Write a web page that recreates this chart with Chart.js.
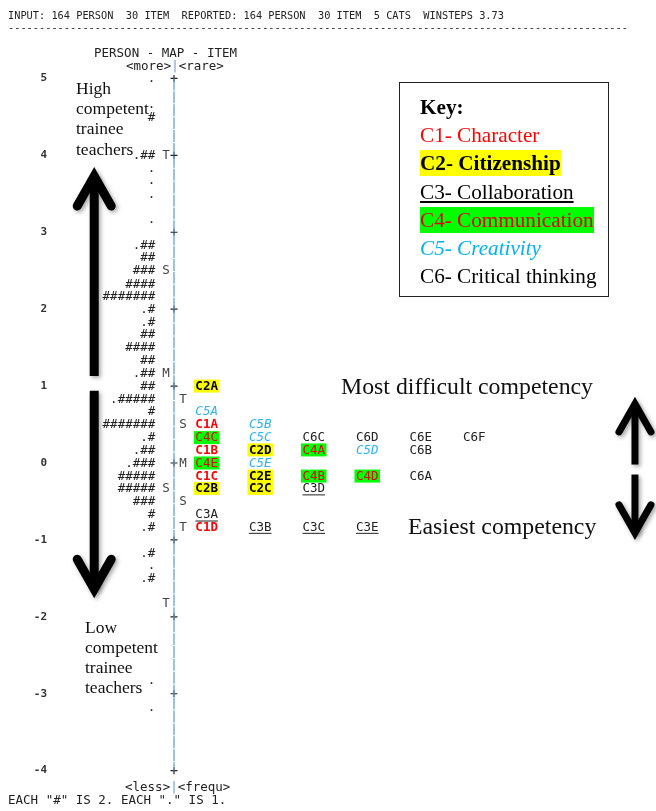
<!DOCTYPE html>
<html>
<head>
<meta charset="utf-8">
<script src="https://cdn.jsdelivr.net/npm/chart.js@4.4.1/dist/chart.umd.min.js"></script>
<style>
  html, body { margin: 0; padding: 0; background: #fff; }
  #wrap { position: relative; width: 656px; height: 811px; overflow: hidden; }
  #wrap canvas { position: absolute; left: 0; top: 0; }
  .mono { position: absolute; font-family: "DejaVu Sans Mono", monospace; font-size: 12.5px; line-height: 14px; color: #222; white-space: pre; }
  .small { font-size: 10.3px; line-height: 12px; }
  .serif { position: absolute; font-family: "Liberation Serif", "Times New Roman", serif; color: #111; white-space: pre; }
  .blue { color: #6a9fd4; }
  #key { position: absolute; left: 399px; top: 82px; width: 210px; height: 215px; box-sizing: border-box;
         border: 1.5px solid #222; padding: 10px 0 0 20px; font-family: "Liberation Serif", serif; font-size: 21.2px; line-height: 28.2px; color: #000; }
  #key div { white-space: pre; }
</style>
</head>
<body>
<div id="wrap">
  <canvas id="map" width="656" height="811"></canvas>

  <div class="mono small" style="left:8px;top:9px;">INPUT: 164 PERSON  30 ITEM  REPORTED: 164 PERSON  30 ITEM  5 CATS  WINSTEPS 3.73</div>
  <div class="mono small" style="left:8px;top:21px;">----------------------------------------------------------------------------------------------------</div>
  <div class="mono" style="left:94px;top:46px;">PERSON - MAP - ITEM</div>
  <div class="mono" style="left:126px;top:59px;">&lt;more&gt;<span class="blue">|</span>&lt;rare&gt;</div>
  <div class="mono" style="left:125px;top:780px;">&lt;less&gt;<span class="blue">|</span>&lt;frequ&gt;</div>
  <div class="mono" style="left:8px;top:793px;">EACH "#" IS 2. EACH "." IS 1.</div>

  <div class="serif" style="left:76px;top:78px;font-size:17.5px;line-height:20.2px;">High
competent
trainee
teachers</div>
  <div class="serif" style="left:85px;top:617px;font-size:17.5px;line-height:20px;">Low
competent
trainee
teachers</div>
  <div class="serif" style="left:341px;top:372px;font-size:23.8px;line-height:28px;">Most difficult competency</div>
  <div class="serif" style="left:408px;top:512px;font-size:23.8px;line-height:28px;">Easiest competency</div>

  <div id="key">
    <div style="font-weight:bold;">Key:</div>
    <div style="color:#ff0000;">C1- Character</div>
    <div><span style="font-weight:bold;background:#ffff00;padding:1px 0;">C2- Citizenship</span></div>
    <div><span style="text-decoration:underline;">C3- Collaboration</span></div>
    <div><span style="color:#e00000;background:#00ff00;padding:1px 0;">C4- Communication</span></div>
    <div style="color:#00b0f0;font-style:italic;">C5- Creativity</div>
    <div>C6- Critical thinking</div>
  </div>
</div>

<script>
// logit scale ticks
const tickValues = [5, 4, 3, 2, 1, 0, -1, -2, -3, -4];

// persons: measure of each map row and number of persons in it
const personMeasures = [5.00, 4.67, 4.50, 4.00, 3.83, 3.67, 3.50, 3.17, 2.83, 2.67, 2.50, 2.33, 2.17,
  2.00, 1.83, 1.67, 1.50, 1.33, 1.17, 1.00, 0.83, 0.67, 0.50, 0.33, 0.17, 0.00, -0.17, -0.33,
  -0.50, -0.67, -0.83, -1.17, -1.33, -1.50, -2.83, -3.17];
const personCounts = [1, 1, 2, 5, 1, 1, 1, 1, 5, 4, 6, 8, 14,
  3, 3, 4, 8, 4, 5, 4, 11, 2, 14, 3, 5, 7, 10, 10,
  6, 2, 3, 3, 1, 3, 1, 1];

// M / S / T markers
const personMarkLabels = ['T', 'S', 'M', 'S', 'T'];
const personMarkMeasures = [4.00, 2.50, 1.17, -0.33, -1.83];
const itemMarkLabels = ['T', 'S', 'M', 'S', 'T'];
const itemMarkMeasures = [0.83, 0.50, 0.00, -0.50, -0.83];

// items
const itemNames = ['C2A', 'C5A', 'C1A', 'C5B', 'C4C', 'C5C', 'C6C', 'C6D', 'C6E', 'C6F',
  'C1B', 'C2D', 'C4A', 'C5D', 'C6B', 'C4E', 'C5E', 'C1C', 'C2E', 'C4B', 'C4D', 'C6A',
  'C2B', 'C2C', 'C3D', 'C3A', 'C1D', 'C3B', 'C3C', 'C3E'];
const itemMeasures = [1.00, 0.67, 0.50, 0.50, 0.33, 0.33, 0.33, 0.33, 0.33, 0.33,
  0.17, 0.17, 0.17, 0.17, 0.17, 0.00, 0.00, -0.17, -0.17, -0.17, -0.17, -0.17,
  -0.33, -0.33, -0.33, -0.67, -0.83, -0.83, -0.83, -0.83];

// --- layout / style (column units on the hidden x scale) ---
const X_MIN = -1.926, X_MAX = 9.296;
const PERSON_X = 0.04, PMARK_X = 0.24, AXIS_X = 0.39, IMARK_X = 0.56;
const MONO = '"DejaVu Sans Mono", monospace';

const catStyle = {
  C1: { color: '#ff0000', bold: true },
  C2: { color: '#000', bold: true, bg: '#ffff00' },
  C3: { color: '#222', underline: true },
  C4: { color: '#e00000', bg: '#00ff00' },
  C5: { color: '#2fb2ee', italic: true },
  C6: { color: '#222' }
};

// person string: dot for odd count, then one '#' per 2
const personText = personCounts.map(n => (n % 2 ? '.' : '') + '#'.repeat(Math.floor(n / 2)));

// item column = order within its row
const seen = {};
const itemCols = itemMeasures.map(m => { seen[m] = (seen[m] || 0) + 1; return seen[m]; });

// arrows (annotation), y in logits
const arrows = [
  { x: -1.1, from: 1.13, to: 3.85, lw: 9, hw: 17, hh: 30 },
  { x: -1.1, from: 0.94, to: -1.76, lw: 9, hw: 17, hh: 30 },
  { x: 9.0, from: -0.02, to: 0.86, lw: 7, hw: 16, hh: 28 },
  { x: 9.0, from: -0.15, to: -1.00, lw: 7, hw: 16, hh: 28 }
];

const arrowPlugin = {
  id: 'arrows',
  beforeDatasetsDraw(chart) {
    const { ctx, scales: { x, y } } = chart;
    ctx.save();
    ctx.strokeStyle = '#000';
    ctx.shadowColor = 'rgba(0,0,0,0.35)';
    ctx.shadowBlur = 4;
    ctx.shadowOffsetX = 2;
    ctx.shadowOffsetY = 2;
    arrows.forEach(a => {
      const px = x.getPixelForValue(a.x);
      const y0 = y.getPixelForValue(a.from);
      const dir = y.getPixelForValue(a.to) < y0 ? 1 : -1;
      // keep the mitred tip on the target value
      const ext = (a.lw / 2) / Math.sin(Math.atan(a.hw / a.hh));
      const y1 = y.getPixelForValue(a.to) + dir * ext;
      ctx.lineWidth = a.lw;
      ctx.lineCap = 'butt';
      ctx.beginPath();
      ctx.moveTo(px, y0);
      ctx.lineTo(px, y1);
      ctx.stroke();
      ctx.lineCap = 'round';
      ctx.lineJoin = 'miter';
      ctx.beginPath();
      ctx.moveTo(px - a.hw, y1 + dir * a.hh);
      ctx.lineTo(px, y1);
      ctx.lineTo(px + a.hw, y1 + dir * a.hh);
      ctx.stroke();
    });
    ctx.restore();
  }
};

const textPlugin = {
  id: 'mapText',
  afterDatasetsDraw(chart) {
    const ctx = chart.ctx;
    ctx.save();
    ctx.textBaseline = 'middle';
    chart.data.datasets.forEach((ds, i) => {
      if (!ds.texts) return;
      const meta = chart.getDatasetMeta(i);
      meta.data.forEach((el, j) => {
        const txt = ds.texts[j];
        const st = ds.styles ? ds.styles[j] : { color: ds.textColor || '#222' };
        ctx.font = (st.italic ? 'italic ' : '') + (st.bold ? 'bold ' : '') + '12.5px ' + MONO;
        const w = ctx.measureText(txt).width;
        let left = el.x;
        if (ds.align === 'right') left = el.x - w;
        else if (ds.align === 'center') left = el.x - w / 2;
        if (st.bg) {
          ctx.fillStyle = st.bg;
          ctx.fillRect(left - 1.5, el.y - 6.5, w + 3, 13);
        }
        ctx.fillStyle = st.color;
        ctx.textAlign = 'left';
        ctx.fillText(txt, left, el.y + 0.5);
        if (st.underline) {
          ctx.strokeStyle = st.color;
          ctx.lineWidth = 1;
          ctx.beginPath();
          ctx.moveTo(left, el.y + 6.5);
          ctx.lineTo(left + w, el.y + 6.5);
          ctx.stroke();
        }
      });
    });
    ctx.restore();
  }
};

new Chart(document.getElementById('map'), {
  type: 'scatter',
  data: {
    datasets: [
      {
        type: 'line',
        data: [{ x: AXIS_X, y: 5 }, { x: AXIS_X, y: -4 }],
        borderColor: '#6a9fd4',
        borderWidth: 1.3,
        borderDash: [11.9, 1],
        pointRadius: 0
      },
      {
        data: tickValues.map(v => ({ x: AXIS_X, y: v })),
        pointStyle: 'cross',
        pointRadius: 3.5,
        borderColor: '#222',
        borderWidth: 1.2
      },
      {
        data: personMeasures.map(m => ({ x: PERSON_X, y: m })),
        pointRadius: 0,
        texts: personText,
        align: 'right',
        textColor: '#222'
      },
      {
        data: personMarkMeasures.map(m => ({ x: PMARK_X, y: m })),
        pointRadius: 0,
        texts: personMarkLabels,
        align: 'center',
        textColor: '#444'
      },
      {
        data: itemMarkMeasures.map(m => ({ x: IMARK_X, y: m })),
        pointRadius: 0,
        texts: itemMarkLabels,
        align: 'center',
        textColor: '#444'
      },
      {
        data: itemMeasures.map((m, i) => ({ x: itemCols[i], y: m })),
        pointRadius: 0,
        texts: itemNames,
        styles: itemNames.map(n => catStyle[n.slice(0, 2)]),
        align: 'center'
      }
    ]
  },
  options: {
    responsive: false,
    animation: false,
    layout: { padding: { top: 40, bottom: 5, left: 0, right: 0 } },
    plugins: { legend: { display: false }, tooltip: { enabled: false } },
    scales: {
      x: { type: 'linear', min: X_MIN, max: X_MAX, display: false },
      y: {
        type: 'linear',
        min: -4.4,
        max: 5.5,
        afterBuildTicks: s => { s.ticks = tickValues.map(v => ({ value: v })); },
        afterFit: s => { s.width = 50; },
        grid: { display: false, drawTicks: false },
        border: { display: false },
        ticks: { padding: 3, color: '#333', font: { family: MONO, size: 11, weight: 'bold' } }
      }
    }
  },
  plugins: [arrowPlugin, textPlugin]
});
</script>
</body>
</html>
